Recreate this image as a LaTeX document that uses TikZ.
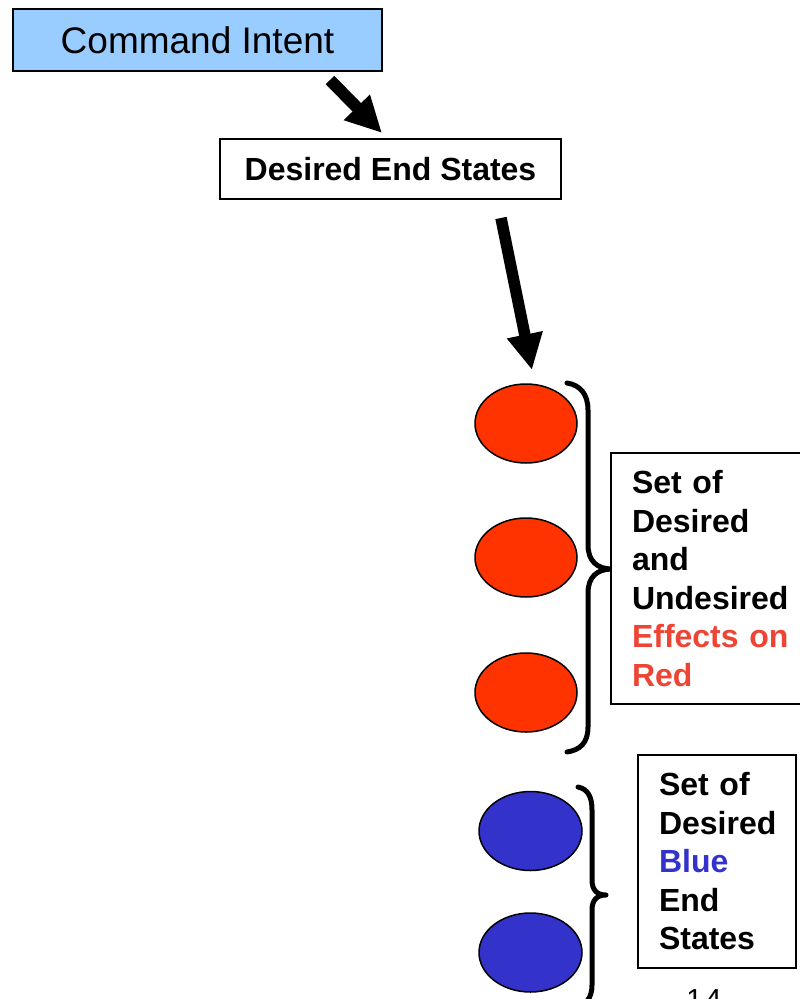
\documentclass[tikz,border=0pt]{standalone}
\usepackage{fontspec}
\setmainfont{Liberation Sans}
\usetikzlibrary{shapes.geometric,arrows.meta}

\definecolor{intentblue}{HTML}{99CCFF}
\definecolor{redball}{HTML}{FF3300}
\definecolor{blueball}{HTML}{3333CC}
\definecolor{redtext}{HTML}{EE4433}
\definecolor{bluetext}{HTML}{3333CC}

\tikzset{
  intentbox/.style={draw=black, line width=2pt, fill=intentblue, inner sep=0pt,
    minimum width=369pt, minimum height=62pt, font=\fontsize{37}{44}\selectfont},
  statebox/.style={draw=black, line width=2pt, fill=white, inner sep=0pt,
    minimum width=341pt, minimum height=60pt, font=\bfseries\fontsize{32}{38}\selectfont},
  listbox/.style={draw=black, line width=2pt, fill=white, anchor=north west,
    inner xsep=21pt, inner ysep=0pt, align=left,
    font=\bfseries\fontsize{32}{38.5}\selectfont},
  redeffect/.style={ellipse, draw=black, line width=1.5pt, fill=redball,
    minimum width=102pt, minimum height=79pt, inner sep=0pt},
  blueeffect/.style={ellipse, draw=black, line width=1.5pt, fill=blueball,
    minimum width=103pt, minimum height=79pt, inner sep=0pt},
  fatarrow/.style={line width=#1, -{Triangle[length=36pt, width=34pt]}},
  bracket/.style={line width=5pt, line cap=round, line join=round},
}

\begin{document}
\begin{tikzpicture}[x=1pt, y=-1pt]
  \useasboundingbox (0,0) rectangle (800,999);

  % headline boxes
  \node[intentbox] (intent) at (197.5,40) {Command Intent};
  \node[statebox] (endstates) at (390.5,169) {Desired End States};

  % arrows between the stages
  \coordinate (a1s) at (330,80);
  \coordinate (a1e) at (382,133);
  \draw[fatarrow=12pt] (a1s) -- (a1e);

  \coordinate (a2s) at (501,218);
  \coordinate (a2e) at (532,370);
  \draw[fatarrow=11.5pt] (a2s) -- (a2e);

  % effects on red
  \node[redeffect] (red1) at (526,423.5) {};
  \node[redeffect] (red2) at (526,557.5) {};
  \node[redeffect] (red3) at (526,692.5) {};

  \draw[bracket] (567,383) .. controls (580,385) and (588,394) .. (588,410)
    -- (588,545) .. controls (588,561) and (597,569) .. (612,569)
    .. controls (597,569) and (588,577) .. (588,593)
    -- (588,727) .. controls (588,743) and (580,750) .. (567,752);

  \node[listbox, minimum width=202pt, minimum height=251pt, text width=160pt]
    (redlist) at (610,452)
    {Set of\\Desired\\and\\Undesired\\\textcolor{redtext}{Effects on}\\\textcolor{redtext}{Red}};

  % blue end states
  \node[blueeffect] (blue1) at (530.5,831) {};
  \node[blueeffect] (blue2) at (530.5,952.5) {};

  \draw[bracket] (578,787) .. controls (588,789) and (592,797) .. (592,810)
    -- (592,880) .. controls (592,890) and (597,895) .. (606,895)
    .. controls (597,895) and (592,900) .. (592,910)
    -- (592,985) .. controls (592,998) and (586,1005) .. (575,1008);

  \node[listbox, minimum width=158pt, minimum height=213pt, text width=116pt]
    (bluelist) at (637,754)
    {Set of\\Desired\\\textcolor{bluetext}{Blue}\\End\\States};

  % page number
  \node[anchor=north, inner sep=0pt, font=\fontsize{29}{34}\selectfont]
    (pageno) at (704,989) {1\kern3pt4};
\end{tikzpicture}
\end{document}
